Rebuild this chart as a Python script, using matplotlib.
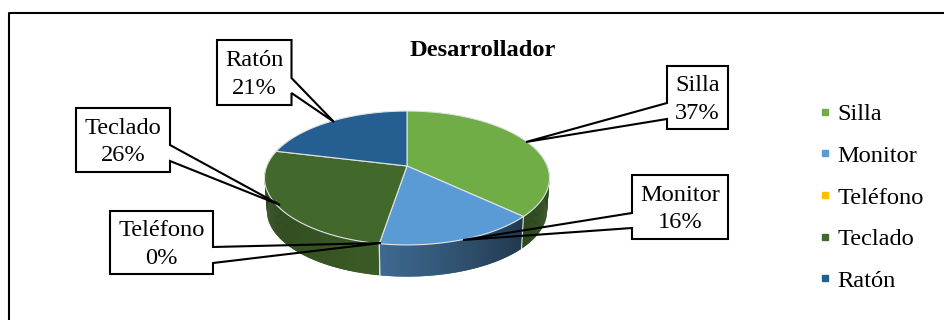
import numpy as np
import matplotlib
matplotlib.use("Agg")
import matplotlib.pyplot as plt
from matplotlib.patches import Polygon
from matplotlib.collections import PolyCollection
from matplotlib.lines import Line2D

# ---- data ----
categories = ["Silla", "Monitor", "Teléfono", "Teclado", "Ratón"]
values = [37, 15.6, 0, 26.2, 21.2]
title = "Desarrollador"

# ---- style ----
colors = ["#70AD47", "#5B9BD5", "#FFC000", "#43682B", "#255E91"]
wall_shade = [(0.42, 0.42), (0.68, 0.36), (0.5, 0.5), (0.88, 0.58), (0.5, 0.5)]
FONT = "Liberation Serif"
FS = 17.6
LW = 1.5
EDGE = "#dfe3e6"

plt.rcParams["font.family"] = FONT
fig = plt.figure(figsize=(9.44, 3.2), dpi=100)
ax = fig.add_axes([0, 0, 1, 1])
ax.set_xlim(0, 944)
ax.set_ylim(320, 0)
ax.axis("off")

# outer frame (only top and left are inside the crop)
ax.add_line(Line2D([8.5, 8.5, 944], [320, 13, 13], color="black", lw=LW))

# ---- pie geometry: perspective projection of a unit circle ----
CX, CY = 407.0, 166.0
A, B, K = 140.2, 64.8, -0.179
DEPTH, SHRINK = 33.0, 0.983


def top(theta):
    u, v = np.sin(theta), -np.cos(theta)
    d = 1 + K * v
    return CX + A * u / d, CY + B * v / d


def bottom(theta):
    x, y = top(theta)
    return CX + SHRINK * (x - CX), CY + SHRINK * (y - CY) + DEPTH


fractions = np.array(values, dtype=float) / np.sum(values)
edges = np.concatenate([[0], np.cumsum(fractions)]) * 2 * np.pi

# side walls
for i, col in enumerate(colors):
    t0, t1 = edges[i], edges[i + 1]
    if t1 <= t0:
        continue
    ts = np.linspace(t0, t1, max(3, int((t1 - t0) * 120)))
    quads, fcs = [], []
    rgb = np.array(matplotlib.colors.to_rgb(col))
    for j in range(len(ts) - 1):
        a, b = ts[j], ts[min(j + 2, len(ts) - 1)]
        if -np.cos(a) < -0.35 or -np.cos(b) < -0.35:
            continue
        xa, ya = top(a)
        xb, yb = top(b)
        xc, yc = bottom(b)
        xd, yd = bottom(a)
        quads.append([(xa, ya), (xb, yb), (xc, yc), (xd, yd)])
        f = j / max(1, len(ts) - 2)
        s0, s1 = wall_shade[i]
        shade = s1 + (s0 - s1) * (1 - f) if i != 1 else s0 + (s1 - s0) * (1 - f)
        fcs.append(tuple(rgb * shade))
    if quads:
        ax.add_collection(PolyCollection(quads, facecolors=fcs, edgecolors="none",
                                         zorder=2))

# wall seams
for t in edges[1:]:
    if -np.cos(t) > 0:
        x0, y0 = top(t)
        x1, y1 = bottom(t)
        ax.add_line(Line2D([x0, x1], [y0, y1], color=EDGE, lw=0.8, zorder=3))

# top surface
for i, col in enumerate(colors):
    t0, t1 = edges[i], edges[i + 1]
    if t1 <= t0:
        continue
    ts = np.linspace(t0, t1, 200)
    xs, ys = top(ts)
    pts = np.column_stack([np.r_[CX, xs], np.r_[CY, ys]])
    ax.add_patch(Polygon(pts, closed=True, facecolor=col, edgecolor=EDGE,
                         lw=0.8, joinstyle="round", zorder=4))

# ---- callouts: box (x0, x1, y0, y1), side of pointer, pointer base y's, tip ----
callouts = {
    "Silla":    dict(box=(667, 728, 66, 129), side="left",  base=(103, 119), tip=(526, 142)),
    "Monitor":  dict(box=(632, 728, 175, 239), side="left",  base=(213, 228), tip=(463, 240)),
    "Teléfono": dict(box=(110, 213, 211, 274), side="right", base=(247, 263), tip=(381, 243)),
    "Teclado":  dict(box=(76, 170, 108, 172), side="right", base=(145, 161), tip=(280, 205)),
    "Ratón":    dict(box=(217, 291.5, 40, 105), side="right", base=(78, 93), tip=(334, 122)),
}
for name, val in zip(categories, values):
    c = callouts[name]
    x0, x1, y0, y1 = c["box"]
    b0, b1 = c["base"]
    tx, ty = c["tip"]
    if c["side"] == "right":
        pts = [(x0, y0), (x1, y0), (x1, b0), (tx, ty), (x1, b1), (x1, y1), (x0, y1)]
    else:
        pts = [(x0, y0), (x1, y0), (x1, y1), (x0, y1), (x0, b1), (tx, ty), (x0, b0)]
    ax.add_patch(Polygon(pts, closed=True, facecolor="none", edgecolor="black",
                         lw=LW, joinstyle="miter", zorder=5))
    ax.add_patch(Polygon([(x0, y0), (x1, y0), (x1, y1), (x0, y1)], closed=True,
                         facecolor="white", edgecolor="none", zorder=4.5))
    ax.text((x0 + x1) / 2, (y0 + y1) / 2 + 2, f"{name}\n{val:.0f}%", ha="center", va="center",
            fontsize=FS, color="black", linespacing=1.42, zorder=6)

# title
ax.text(482.5, 51, title, ha="center", va="center", fontsize=FS,
        fontweight="bold", color="black", zorder=6)

# legend
handles = [Line2D([], [], linestyle="none", marker="s", markersize=5,
                  markerfacecolor=c, markeredgecolor=c) for c in colors]
ax.legend(handles, categories, loc="center left",
          bbox_to_anchor=(818, 197.5), bbox_transform=ax.transData,
          frameon=False, fontsize=FS, labelspacing=0.8, handlelength=0.58,
          handletextpad=0.2, borderpad=0, borderaxespad=0)

fig.savefig("out.png", dpi=100)
